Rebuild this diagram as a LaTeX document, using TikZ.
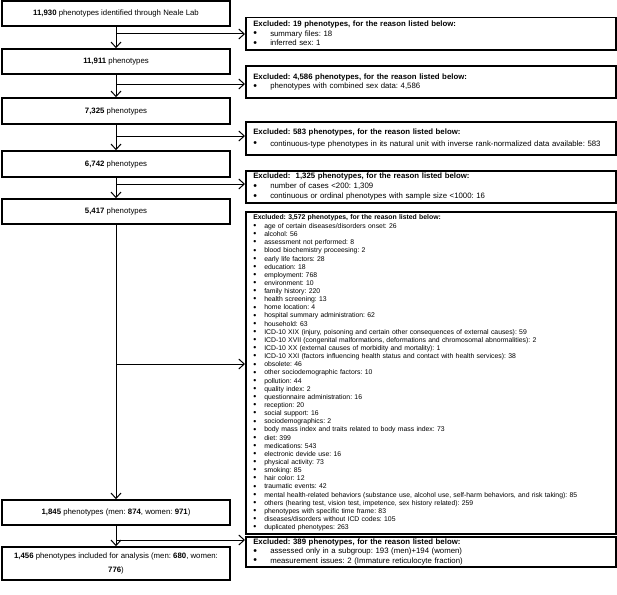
\documentclass[tikz,border=0pt]{standalone}
\usepackage{fontspec}
\setmainfont{Liberation Sans}
\usetikzlibrary{arrows.meta}
\frenchspacing
\newcommand\blt{\makebox[17pt][l]{\raisebox{-0.7pt}{\fontsize{10.5}{10.5}\selectfont\textbullet}}}
\newcommand\bls{\makebox[11pt][l]{\raisebox{-0.2pt}{\fontsize{8.6}{8.6}\selectfont\textbullet}}}
\begin{document}
\begin{tikzpicture}[x=1pt,y=-1pt,
  lbox/.style={draw, line width=1.5pt, minimum width=228pt, inner sep=0pt, align=center, font=\fontsize{7.8}{14.5}\selectfont},
  rbox/.style={draw, line width=1.5pt, anchor=north west, minimum width=370pt, text width=355pt, inner xsep=7.5pt, inner ysep=0pt, align=left, font=\fontsize{7.8}{9.3}\selectfont},
  conn/.style={line width=1pt, -{Straight Barb[length=5.5pt,width=10pt]}}]
\useasboundingbox (0,0) rectangle (617,594);
\fill[white] (0,0) rectangle (617,594);
% left column
\node[lbox, minimum height=25pt] (b1) at (116,13.5) {\textbf{11,930} phenotypes identified through Neale Lab};
\node[lbox, minimum height=25pt] (b2) at (116,61.5) {\textbf{11,911} phenotypes};
\node[lbox, minimum height=26pt] (b3) at (116,111) {\textbf{7,325} phenotypes};
\node[lbox, minimum height=26pt] (b4) at (116,164) {\textbf{6,742} phenotypes};
\node[lbox, minimum height=25pt] (b5) at (116,211.5) {\textbf{5,417} phenotypes};
\node[lbox, minimum height=25pt] (b6) at (116,512.5) {\textbf{1,845} phenotypes (men: \textbf{874}, women: \textbf{971})};
\node[lbox, minimum height=33pt] (b7) at (116,563.5) {\textbf{1,456} phenotypes included for analysis (men: \textbf{680}, women:\\ \textbf{776})};
% right column
\node[rbox, minimum height=32pt] (r1) at (245,17) {\textbf{Excluded: 19 phenotypes, for the reason listed below:}\\
\blt summary files: 18\\
\blt inferred sex: 1};
\node[rbox, minimum height=32pt] (r2) at (245,65) {\textbf{Excluded: 4,586 phenotypes, for the reason listed below:}\\
\blt phenotypes with combined sex data: 4,586};
\node[rbox, minimum height=33pt, font=\fontsize{7.8}{12}\selectfont] (r3) at (245,121) {\textbf{Excluded: 583 phenotypes, for the reason listed below:}\\
\blt continuous-type phenotypes in its natural unit with inverse rank-normalized data available: 583};
\node[rbox, minimum height=32pt, font=\fontsize{7.8}{10}\selectfont] (r4) at (245,170) {\textbf{Excluded: \ 1,325 phenotypes, for the reason listed below:}\\
\blt number of cases <200: 1,309\\
\blt continuous or ordinal phenotypes with sample size <1000: 16};
\node[rbox, minimum height=322pt, font=\fontsize{6.85}{8.14}\selectfont] (r5) at (245,211) {\textbf{Excluded: 3,572 phenotypes, for the reason listed below:}\\[0.9pt]
\bls age of certain diseases/disorders onset: 26\\
\bls alcohol: 56\\
\bls assessment not performed: 8\\
\bls blood biochemistry proceesing: 2\\
\bls early life factors: 28\\
\bls education: 18\\
\bls employment: 768\\
\bls environment: 10\\
\bls family history: 220\\
\bls health screening: 13\\
\bls home location: 4\\
\bls hospital summary administration: 62\\
\bls household: 63\\
\bls ICD-10 XIX (injury, poisoning and certain other consequences of external causes): 59\\
\bls ICD-10 XVII (congenital malformations, deformations and chromosomal abnormalities): 2\\
\bls ICD-10 XX (external causes of morbidity and mortality): 1\\
\bls ICD-10 XXI (factors influencing health status and contact with health services): 38\\
\bls obsolete: 46\\
\bls other sociodemographic factors: 10\\
\bls pollution: 44\\
\bls quality index: 2\\
\bls questionnaire administration: 16\\
\bls reception: 20\\
\bls social support: 16\\
\bls sociodemographics: 2\\
\bls body mass index and traits related to body mass index: 73\\
\bls diet: 399\\
\bls medications: 543\\
\bls electronic devide use: 16\\
\bls physical activity: 73\\
\bls smoking: 85\\
\bls hair color: 12\\
\bls traumatic events: 42\\
\bls mental health-related behaviors (substance use, alcohol use, self-harm behaviors, and risk taking): 85\\
\bls others (hearing test, vision test, impetence, sex history related): 259\\
\bls phenotypes with specific time frame: 83\\
\bls diseases/disorders without ICD codes: 105\\
\bls duplicated phenotypes: 263};
\node[rbox, minimum height=30pt] (r6) at (245,536) {\textbf{Excluded: 389 phenotypes, for the reason listed below:}\\
\blt assessed only in a subgroup: 193 (men)+194 (women)\\
\blt measurement issues: 2 (Immature reticulocyte fraction)};
% main flow
\draw[conn] (b1.south) -- (b2.north);
\draw[conn] (b2.south) -- (b3.north);
\draw[conn] (b3.south) -- (b4.north);
\draw[conn] (b4.south) -- (b5.north);
\draw[conn] (b5.south) -- (b6.north);
\draw[conn] (b6.south) -- (b7.north);
% branches
\coordinate (j1) at (116,34);
\coordinate (j2) at (116,84);
\coordinate (j3) at (116,136);
\coordinate (j4) at (116,184);
\coordinate (j5) at (116,364);
\coordinate (j6) at (116,540);
\draw[conn] (j1) -- (j1 -| r1.west);
\draw[conn] (j2) -- (j2 -| r2.west);
\draw[conn] (j3) -- (j3 -| r3.west);
\draw[conn] (j4) -- (j4 -| r4.west);
\draw[conn] (j5) -- (j5 -| r5.west);
\draw[conn] (j6) -- (j6 -| r6.west);
\end{tikzpicture}
\end{document}
